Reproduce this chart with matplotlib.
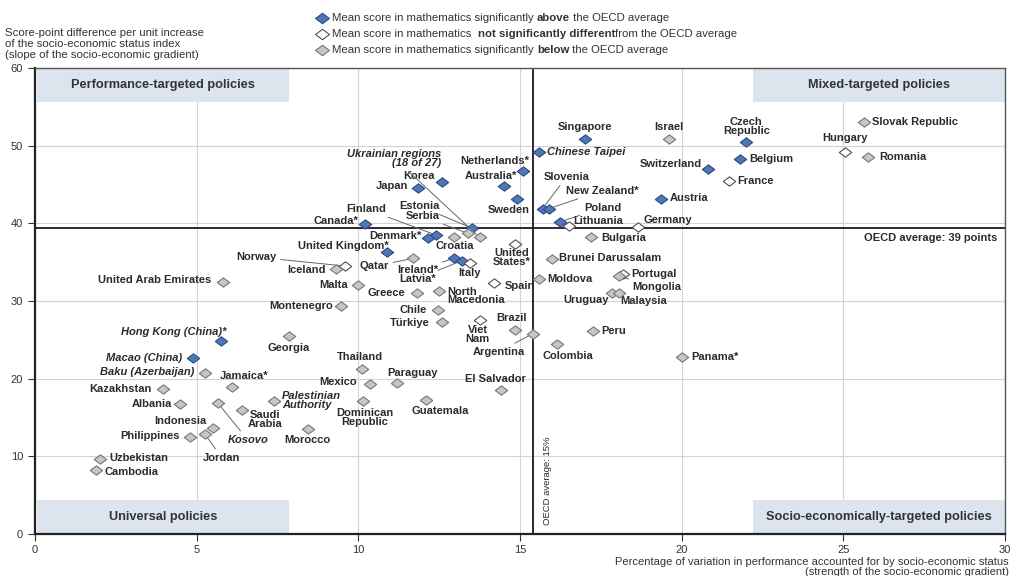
import matplotlib
matplotlib.use("Agg")
import matplotlib.pyplot as plt
from matplotlib.lines import Line2D
from matplotlib.patches import Rectangle
from matplotlib.path import Path

plt.rcParams['font.family'] = ['Liberation Sans', 'DejaVu Sans']

# ---- data: x = % of variation explained by ESCS, y = slope of gradient ----
above_names = ["Singapore", "Chinese Taipei", "Czech\nRepublic", "Belgium", "Switzerland",
               "Netherlands*", "Korea", "Japan", "Australia*", "Sweden", "Austria",
               "Slovenia", "New Zealand*", "Poland", "Canada*", "Estonia", "Finland",
               "Denmark*", "United Kingdom*", "Ireland*", "Latvia*",
               "Hong Kong (China)*", "Macao (China)"]
above_x = [17.0, 15.6, 22.0, 21.8, 20.8, 15.1, 12.6, 11.85, 14.5, 14.9, 19.35,
           15.7, 15.9, 16.25, 10.2, 13.5, 12.4, 12.15, 10.9, 12.95, 13.2, 5.75, 4.9]
above_y = [50.8, 49.2, 50.5, 48.3, 47.0, 46.8, 45.3, 44.5, 44.8, 43.1, 43.2,
           41.9, 41.9, 40.2, 39.9, 39.4, 38.5, 38.1, 36.3, 35.5, 35.2, 24.8, 22.7]

same_names = ["Hungary", "France", "Germany", "Lithuania", "United\nStates*", "Italy",
              "Norway", "Spain", "Viet\nNam", "Portugal"]
same_x = [25.05, 21.45, 18.65, 16.5, 14.85, 13.45, 9.6, 14.2, 13.75, 18.2]
same_y = [49.2, 45.4, 39.5, 39.7, 37.3, 34.9, 34.5, 32.3, 27.5, 33.5]

below_names = ["Slovak Republic", "Romania", "Israel", "Bulgaria", "Brunei Darussalam",
               "Moldova", "Mongolia", "Uruguay", "Malaysia", "Peru", "Colombia", "Panama*",
               "Argentina", "Brazil", "El Salvador", "Serbia", "Croatia",
               "Ukrainian regions\n(18 of 27)", "Iceland", "Qatar", "United Arab Emirates",
               "Malta", "Greece", "North\nMacedonia", "Montenegro", "Chile", "Türkiye",
               "Georgia", "Thailand", "Mexico", "Paraguay", "Dominican\nRepublic",
               "Guatemala", "Jamaica*", "Palestinian\nAuthority", "Saudi\nArabia",
               "Morocco", "Kosovo", "Indonesia", "Jordan", "Philippines", "Kazakhstan",
               "Albania", "Baku (Azerbaijan)", "Uzbekistan", "Cambodia"]
below_x = [25.65, 25.75, 19.6, 17.2, 16.0, 15.6, 18.05, 17.85, 18.05, 17.25, 16.15, 20.0,
           15.4, 14.85, 14.4, 13.4, 12.95, 13.75, 9.3, 11.7, 5.8, 10.0, 11.8, 12.5,
           9.45, 12.45, 12.6, 7.85, 10.1, 10.35, 11.2, 10.15, 12.1, 6.1, 7.4, 6.4,
           8.45, 5.65, 5.5, 5.25, 4.8, 3.95, 4.5, 5.25, 2.0, 1.9]
below_y = [53.1, 48.6, 50.9, 38.2, 35.4, 32.8, 33.2, 31.0, 31.0, 26.2, 24.5, 22.75,
           25.8, 26.3, 18.5, 38.7, 38.2, 38.2, 34.1, 35.5, 32.4, 32.0, 31.0, 31.3,
           29.3, 28.8, 27.3, 25.5, 21.3, 19.3, 19.4, 17.1, 17.25, 18.9, 17.1, 16.0,
           13.5, 16.9, 13.7, 12.9, 12.5, 18.7, 16.7, 20.7, 9.6, 8.2]

oecd_x = 15.4
oecd_y = 39.4

italic_names = {"Chinese Taipei", "Ukrainian regions\n(18 of 27)", "Hong Kong (China)*",
                "Macao (China)", "Baku (Azerbaijan)", "Palestinian\nAuthority", "Kosovo"}

# label layout: offset in pixels (dx, dy), alignment, leader line
L = {
    "Singapore": (0, 12, "center", False), "Chinese Taipei": (8, 0, "left", False),
    "Czech\nRepublic": (0, 15, "center", False), "Belgium": (9, 0, "left", False),
    "Switzerland": (-6, 5, "right", False), "Netherlands*": (6, 10, "right", False),
    "Korea": (-8, 6, "right", False), "Japan": (-10, 2, "right", False),
    "Australia*": (-13, 10, "center", False), "Sweden": (-8, -11, "center", False),
    "Austria": (9, 1, "left", False), "Slovenia": (24, 32, "center", True),
    "New Zealand*": (53, 18, "center", True), "Poland": (42, 14, "center", True),
    "Canada*": (-6, 3, "right", False), "Estonia": (-52, 22, "center", True),
    "Finland": (-70, 26, "center", True), "Denmark*": (-6, 2, "right", False),
    "United Kingdom*": (1, 6, "right", False), "Ireland*": (-36, -12, "center", True),
    "Latvia*": (-44, -18, "center", True), "Hong Kong (China)*": (6, 9, "right", False),
    "Macao (China)": (-11, 0, "right", False),
    "Hungary": (0, 14, "center", False), "France": (9, 0, "left", False),
    "Germany": (5, 7, "left", False), "Lithuania": (5, 5, "left", False),
    "United\nStates*": (-3, -13, "center", False), "Italy": (0, -10, "center", False),
    "Norway": (-89, 9, "center", True), "Spain": (11, -3, "left", False),
    "Viet\nNam": (-2, -14, "center", False), "Portugal": (8, 0, "left", False),
    "Slovak Republic": (8, 0, "left", False), "Romania": (12, 0, "left", False),
    "Israel": (0, 12, "center", False), "Bulgaria": (10, -1, "left", False),
    "Brunei Darussalam": (7, 1, "left", False), "Moldova": (8, 0, "left", False),
    "Mongolia": (14, -11, "left", True), "Uruguay": (-3, -7, "right", False),
    "Malaysia": (2, -8, "left", False), "Peru": (8, 0, "left", False),
    "Colombia": (11, -12, "center", False), "Panama*": (10, 0, "left", False),
    "Argentina": (-34, -18, "center", True), "Brazil": (-4, 12, "center", False),
    "El Salvador": (-5, 11, "center", False), "Serbia": (-46, 17, "center", True),
    "Croatia": (1, -9, "center", False),
    "Ukrainian regions\n(18 of 27)": (-38, 79, "right", True),
    "Iceland": (-10, -1, "right", False), "Qatar": (-39, -8, "center", True),
    "United Arab Emirates": (-11, 2, "right", False), "Malta": (-10, 0, "right", False),
    "Greece": (-11, 0, "right", False), "North\nMacedonia": (8, -5, "left", False),
    "Montenegro": (-8, 0, "right", False), "Chile": (-11, 0, "right", False),
    "Türkiye": (-13, -1, "right", False), "Georgia": (0, -12, "center", False),
    "Thailand": (-2, 12, "center", False), "Mexico": (-13, 2, "right", False),
    "Paraguay": (15, 10, "center", False), "Dominican\nRepublic": (2, -16, "center", False),
    "Guatemala": (14, -11, "center", False), "Jamaica*": (12, 11, "center", False),
    "Palestinian\nAuthority": (8, 1, "left", False), "Saudi\nArabia": (23, -10, "center", False),
    "Morocco": (-1, -11, "center", False), "Kosovo": (30, -37, "center", True),
    "Indonesia": (-6, 7, "right", False), "Jordan": (17, -24, "center", True),
    "Philippines": (-10, 1, "right", False), "Kazakhstan": (-11, 0, "right", False),
    "Albania": (-8, 0, "right", False), "Baku (Azerbaijan)": (-10, 1, "right", False),
    "Uzbekistan": (10, 1, "left", False), "Cambodia": (8, -2, "left", False),
}

# diamond a bit wider than tall
diamond = Path([(-1, 0), (0, 0.75), (1, 0), (0, -0.75), (-1, 0)],
               [Path.MOVETO, Path.LINETO, Path.LINETO, Path.LINETO, Path.CLOSEPOLY])
styles = {
    "above": dict(facecolor="#4f76b5", edgecolor="#2d4c80"),
    "same": dict(facecolor="white", edgecolor="#505050"),
    "below": dict(facecolor="#c6c6c6", edgecolor="#777777"),
}
txt_col = "#2b2b2b"
lab_fs = 8.0

fig = plt.figure(figsize=(10.11, 5.76), dpi=100)
ax = fig.add_axes([0.0346, 0.0729, 0.9595, 0.809])
ax.set_xlim(0, 30)
ax.set_ylim(0, 60)
ax.set_xticks(range(0, 31, 5))
ax.set_yticks(range(0, 61, 10))
ax.grid(True, color="#d4d4d4", lw=0.8)
ax.set_axisbelow(True)
ax.tick_params(direction="out", length=5, labelsize=8, labelcolor="#333333", color="#333333")
ax.tick_params(axis="x", pad=3)
for s in ["left", "bottom"]:
    ax.spines[s].set_linewidth(1.6)
    ax.spines[s].set_color("#222222")
for s in ["top", "right"]:
    ax.spines[s].set_linewidth(1.0)
    ax.spines[s].set_color("#555555")

# quadrant boxes
box_col = "#dce4ee"
boxes = [(0.05, 55.6, 7.8, 4.4, "Performance-targeted policies"),
         (22.2, 55.6, 7.8, 4.4, "Mixed-targeted policies"),
         (0.05, 0.0, 7.8, 4.4, "Universal policies"),
         (22.2, 0.0, 7.8, 4.4, "Socio-economically-targeted policies")]
for bx, by, bw, bh, btxt in boxes:
    ax.add_patch(Rectangle((bx, by), bw, bh, facecolor=box_col, edgecolor="none", zorder=1))
    ax.text(bx + bw / 2, by + bh / 2, btxt, ha="center", va="center", fontsize=9.2,
            fontweight="bold", color="#333333", zorder=2)

ax.axvline(oecd_x, color="#1a1a1a", lw=1.3, zorder=2)
ax.axhline(oecd_y, color="#1a1a1a", lw=1.3, zorder=2)
ax.text(29.75, oecd_y - 1.3, "OECD average: 39 points", ha="right", va="center",
        fontsize=lab_fs, fontweight="bold", color=txt_col)
ax.text(oecd_x + 0.45, 1.2, "OECD average: 15%", rotation=90, ha="center", va="bottom",
        fontsize=6.8, color=txt_col)

for grp, names, xs, ys in [("above", above_names, above_x, above_y),
                           ("same", same_names, same_x, same_y),
                           ("below", below_names, below_x, below_y)]:
    ax.scatter(xs, ys, marker=diamond, s=80, linewidths=0.8, zorder=5, **styles[grp])
    for n, x, y in zip(names, xs, ys):
        dx, dy, ha, leader = L[n]
        kw = dict(arrowprops=dict(arrowstyle="-", color="#666666", lw=0.7,
                                  shrinkA=1, shrinkB=3)) if leader else {}
        ax.annotate(n, (x, y), xytext=(dx, dy), textcoords="offset pixels",
                    ha=ha, va="center", multialignment=ha,
                    fontsize=lab_fs, fontweight="bold", linespacing=0.85,
                    fontstyle="italic" if n in italic_names else "normal",
                    color=txt_col, zorder=4, **kw)

# axis titles
fig.text(5 / 1011, 1 - 28 / 576,
         "Score-point difference per unit increase\nof the socio-economic status index\n"
         "(slope of the socio-economic gradient)",
         ha="left", va="top", fontsize=8.2, color="#333333", linespacing=1.12)
fig.text(1009 / 1011, 1 - 557 / 576,
         "Percentage of variation in performance accounted for by socio-economic status\n"
         "(strength of the socio-economic gradient)",
         ha="right", va="top", fontsize=8.0, color="#333333", linespacing=1.0,
         multialignment="right")

# legend
legend_rows = [("above", ["Mean score in mathematics significantly ", "above", " the OECD average"]),
               ("same", ["Mean score in mathematics  ", "not significantly different", "from the OECD average"]),
               ("below", ["Mean score in mathematics significantly ", "below", " the OECD average"])]
for i, (grp, parts) in enumerate(legend_rows):
    yy = 1 - (18 + 16 * i) / 576
    fig.add_artist(Line2D([322 / 1011], [yy], transform=fig.transFigure, marker=diamond,
                          markersize=10, markerfacecolor=styles[grp]["facecolor"],
                          markeredgecolor=styles[grp]["edgecolor"], markeredgewidth=0.8,
                          linestyle="none"))
    prev = fig.text(332 / 1011, yy, parts[0], ha="left", va="center", fontsize=8.2,
                    color="#333333")
    for j, p in enumerate(parts[1:]):
        prev = ax.annotate(p, xy=(1, 0.5), xycoords=prev, va="center", ha="left",
                           fontsize=8.2, color="#333333",
                           fontweight="bold" if j == 0 else "normal",
                           annotation_clip=False)

fig.savefig("out.png", dpi=100)
